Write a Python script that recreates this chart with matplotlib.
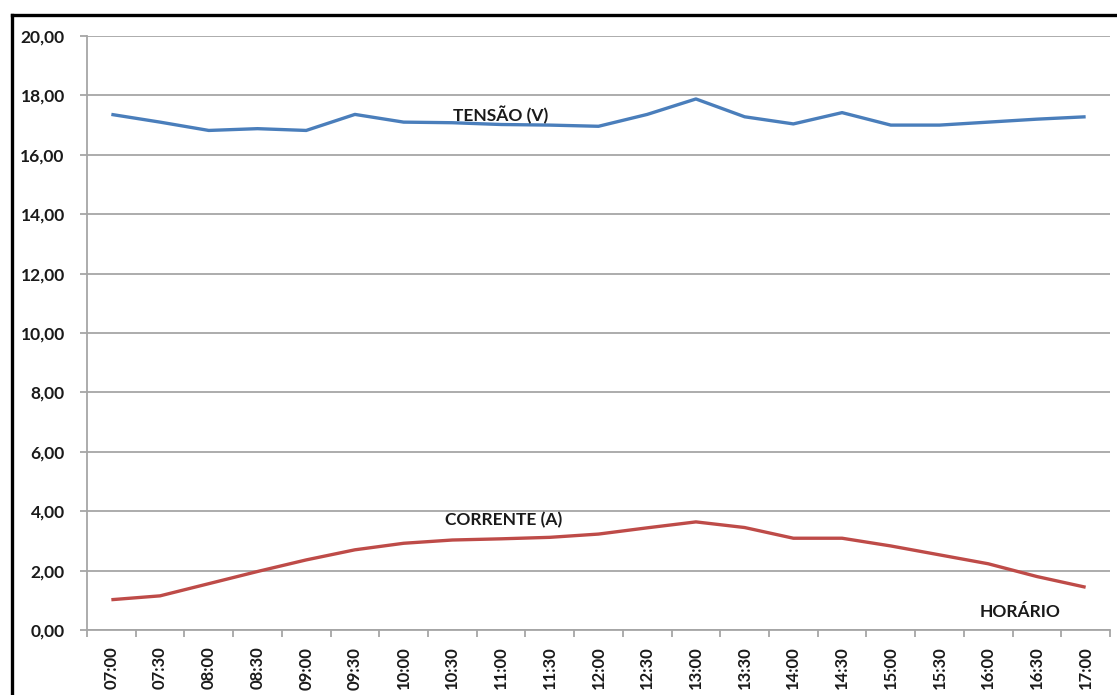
import matplotlib.pyplot as plt
import matplotlib.ticker as ticker
from matplotlib.lines import Line2D
import numpy as np

# horarios de medicao (intervalos de 30 min)
horarios = ['07:00', '07:30', '08:00', '08:30', '09:00', '09:30', '10:00',
            '10:30', '11:00', '11:30', '12:00', '12:30', '13:00', '13:30',
            '14:00', '14:30', '15:00', '15:30', '16:00', '16:30', '17:00']

tensao = [17.36, 17.10, 16.82, 16.88, 16.82, 17.36, 17.10, 17.08, 17.02, 17.00,
          16.96, 17.36, 17.88, 17.28, 17.04, 17.42, 17.00, 17.00, 17.10, 17.20,
          17.28]

corrente = [1.02, 1.15, 1.56, 1.97, 2.36, 2.70, 2.92, 3.03, 3.07, 3.12,
            3.23, 3.44, 3.64, 3.45, 3.09, 3.09, 2.83, 2.53, 2.23, 1.80,
            1.44]

plt.rcParams['font.family'] = ['Lato', 'DejaVu Sans']
fs = 12.5
txt = '#1a1a1a'

fig = plt.figure(figsize=(11.17, 6.95), dpi=100)
ax = fig.add_axes([87 / 1117, 65 / 695, 1023 / 1117, 594 / 695])

x = np.arange(len(horarios))
ax.plot(x, tensao, color='#4a7ebb', lw=2.4, solid_capstyle='butt')
ax.plot(x, corrente, color='#be4b48', lw=2.4, solid_capstyle='butt')

ax.set_xlim(-0.5, len(horarios) - 0.5)
ax.set_ylim(0, 20)

# grade horizontal
ax.yaxis.set_major_locator(ticker.MultipleLocator(2))
ax.yaxis.set_major_formatter(ticker.FuncFormatter(lambda v, p: f'{v:.2f}'.replace('.', ',')))
ax.grid(axis='y', color='#a6a6a6', lw=1.3)
ax.set_axisbelow(True)

# ticks do eixo x nas fronteiras das categorias, rotulos no centro
ax.set_xticks(np.arange(-0.5, len(horarios)), minor=False)
ax.set_xticklabels([])
ax.set_xticks(x, minor=True)
ax.set_xticklabels(horarios, minor=True, rotation=90, fontsize=12,
                   fontweight='bold', color=txt, va='top')
ax.tick_params(axis='x', which='major', length=5, width=1.3, color='#a6a6a6')
ax.tick_params(axis='x', which='minor', length=0, pad=12)
ax.tick_params(axis='y', length=5, width=1.3, color='#a6a6a6', pad=11,
               labelsize=fs, labelcolor=txt)
for lab in ax.get_yticklabels():
    lab.set_fontweight('bold')

for s in ['top', 'right']:
    ax.spines[s].set_visible(False)
for s in ['left', 'bottom']:
    ax.spines[s].set_color('#a6a6a6')
    ax.spines[s].set_linewidth(1.3)

ax.text(8.0, 17.35, 'TENSÃO (V)', ha='center', va='center', fontsize=fs,
        fontweight='bold', color=txt)
ax.text(8.05, 3.70, 'CORRENTE (A)', ha='center', va='center', fontsize=fs,
        fontweight='bold', color=txt)
ax.text(18.66, 0.60, 'HORÁRIO', ha='center', va='center', fontsize=fs,
        fontweight='bold', color=txt)

# moldura preta em cima e a esquerda
fig.add_artist(Line2D([12 / 1117, 1], [680 / 695, 680 / 695], color='black', lw=2.4))
fig.add_artist(Line2D([12 / 1117, 12 / 1117], [0, 680 / 695], color='black', lw=2.4))

fig.savefig('out.png', dpi=100)
